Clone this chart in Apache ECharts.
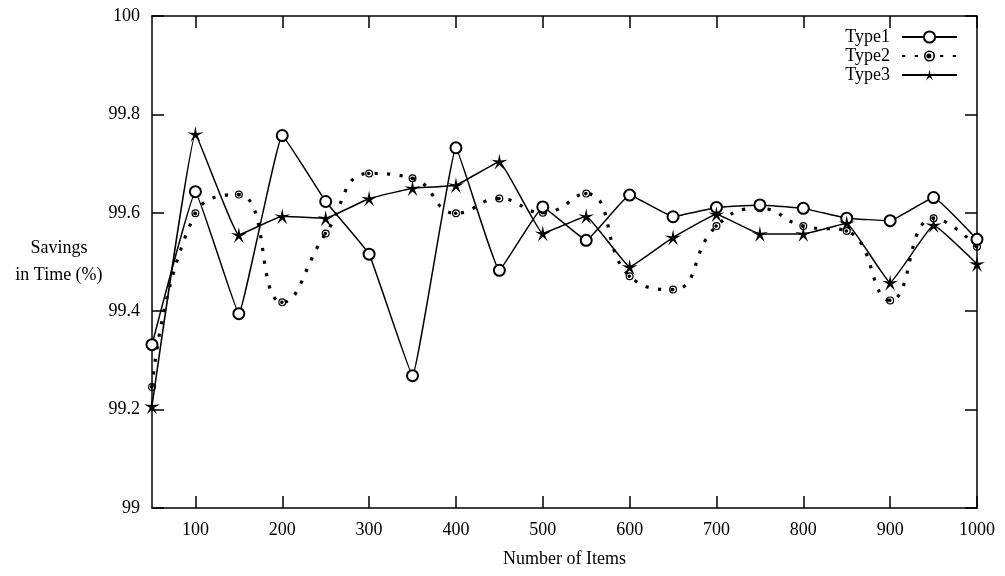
<!DOCTYPE html>
<html>
<head>
<meta charset="utf-8">
<script src="https://cdn.jsdelivr.net/npm/echarts@6/dist/echarts.min.js"></script>
<style>
  html, body { margin: 0; padding: 0; background: #fff; }
  #chart { width: 1005px; height: 576px; }
</style>
</head>
<body>
<div id="chart"></div>
<script>
// number of items on the x axis
var items = [50, 100, 150, 200, 250, 300, 350, 400, 450, 500, 550, 600, 650, 700, 750, 800, 850, 900, 950, 1000];
// savings in time (%)
var type1 = [99.332, 99.643, 99.395, 99.757, 99.623, 99.516, 99.269, 99.732, 99.483, 99.612, 99.544, 99.636, 99.592, 99.611, 99.616, 99.609, 99.589, 99.584, 99.631, 99.546];
var type2 = [99.246, 99.599, 99.637, 99.418, 99.558, 99.680, 99.670, 99.599, 99.629, 99.600, 99.639, 99.471, 99.444, 99.573, 99.609, 99.573, 99.563, 99.422, 99.589, 99.531];
var type3 = [99.207, 99.760, 99.555, 99.593, 99.589, 99.629, 99.650, 99.656, 99.704, 99.558, 99.593, 99.490, 99.550, 99.597, 99.557, 99.557, 99.579, 99.458, 99.575, 99.496];
var xTicks = [100, 200, 300, 400, 500, 600, 700, 800, 900, 1000];

var font = '"Liberation Serif", "DejaVu Serif", serif';

function pairs(ys) {
    return items.map(function (x, i) { return [x, ys[i]]; });
}

// ring with a dot inside
var dotRing = 'path://M0,-10A10,10 0 1,1 0,10A10,10 0 1,1 0,-10Z M0,-7A7,7 0 1,0 0,7A7,7 0 1,0 0,-7Z M-1,-4.5A4.5,4.5 0 1,1 -1,4.5A4.5,4.5 0 1,1 -1,-4.5Z';
// five point star
var star = 'path://M0,-10L1.6,-2.2L9.511,-3.090L2.6,0.85L5.878,8.090L0,2.7L-5.878,8.090L-2.6,0.85L-9.511,-3.090L-1.6,-2.2Z';

var chart = echarts.init(document.getElementById('chart'));

var tickStyle = { show: true, inside: true, length: 12, lineStyle: { color: '#000', width: 1.5 } };
var axisLine = { show: true, onZero: false, lineStyle: { color: '#000', width: 1.5 } };

var option = {
    animation: false,
    backgroundColor: '#fff',
    textStyle: { fontFamily: font },
    grid: { left: 152, right: 28, top: 16, bottom: 68 },
    legend: {
        orient: 'vertical',
        right: 42,
        top: 23,
        align: 'right',
        itemWidth: 55,
        itemHeight: 14,
        itemGap: 1,
        textStyle: { fontFamily: font, fontSize: 18, lineHeight: 18, color: '#000', padding: [0, 7, 0, 0] },
        data: ['Type1', 'Type2', 'Type3']
    },
    xAxis: [{
        type: 'value',
        min: 50,
        max: 1000,
        name: 'Number of Items',
        nameLocation: 'middle',
        nameGap: 42,
        nameTextStyle: { fontFamily: font, fontSize: 18, color: '#000' },
        axisLine: axisLine,
        axisTick: Object.assign({ customValues: xTicks }, tickStyle),
        axisLabel: {
            customValues: xTicks,
            formatter: function (v) { return String(v); },
            fontFamily: font, fontSize: 18, color: '#000', margin: 13
        },
        splitLine: { show: false }
    }, {
        type: 'value',
        position: 'top',
        min: 50,
        max: 1000,
        axisLine: axisLine,
        axisTick: Object.assign({ customValues: xTicks }, tickStyle),
        axisLabel: { show: false },
        splitLine: { show: false }
    }],
    yAxis: [{
        type: 'value',
        min: 99,
        max: 100,
        interval: 0.2,
        name: 'Savings\nin Time (%)',
        nameLocation: 'middle',
        nameRotate: 0,
        nameGap: 90,
        nameTextStyle: { fontFamily: font, fontSize: 18, color: '#000', align: 'center', verticalAlign: 'middle', lineHeight: 27 },
        axisLine: axisLine,
        axisTick: tickStyle,
        axisLabel: { fontFamily: font, fontSize: 18, color: '#000', margin: 12 },
        splitLine: { show: false }
    }, {
        type: 'value',
        position: 'right',
        min: 99,
        max: 100,
        interval: 0.2,
        axisLine: axisLine,
        axisTick: tickStyle,
        axisLabel: { show: false },
        splitLine: { show: false }
    }],
    series: [{
        name: 'Type1',
        type: 'line',
        data: pairs(type1),
        smooth: 0.08,
        symbol: 'emptyCircle',
        symbolSize: 11,
        showAllSymbol: true,
        color: '#000',
        itemStyle: { color: '#000', borderWidth: 1.2 },
        lineStyle: { color: '#000', width: 1.5 },
        z: 3
    }, {
        name: 'Type2',
        type: 'line',
        data: pairs(type2),
        smooth: 0.5,
        symbol: dotRing,
        symbolSize: 8,
        showAllSymbol: true,
        color: '#000',
        itemStyle: { color: '#000' },
        lineStyle: { color: '#000', width: 3.2, type: [3.2, 9.5], cap: 'butt' },
        z: 2
    }, {
        name: 'Type3',
        type: 'line',
        data: pairs(type3),
        smooth: 0.08,
        symbol: star,
        symbolSize: 16,
        showAllSymbol: true,
        color: '#000',
        itemStyle: { color: '#000' },
        lineStyle: { color: '#000', width: 1.5 },
        z: 4
    }]
};
chart.setOption(option);
</script>
</body>
</html>
